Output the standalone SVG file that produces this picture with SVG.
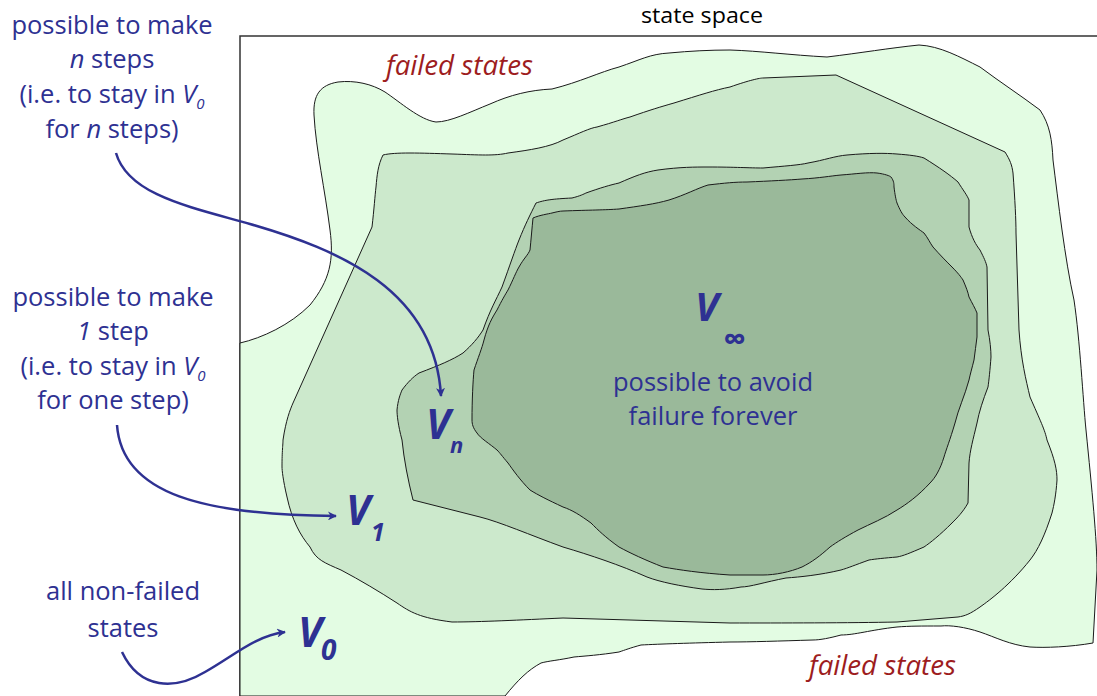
<svg xmlns="http://www.w3.org/2000/svg" width="1097" height="696" viewBox="0 0 1097 696">
<style>
.reg{stroke:#1a1a1a;stroke-width:1;stroke-linejoin:round}
.lbl{font-family:"Open Sans","Noto Sans",sans-serif;font-size:25.5px;fill:#2e3192;text-anchor:middle}
.red{font-family:"Open Sans","Noto Sans",sans-serif;font-size:27px;font-style:italic;fill:#9d1c20}
.big{font-family:"Open Sans","Noto Sans",sans-serif;font-style:italic;font-weight:bold;fill:#2e3192}
.arr{fill:none;stroke:#2e3192;stroke-width:2.5}
</style>
<defs>
<marker id="ah" viewBox="0 0 10 10" refX="9" refY="5" markerWidth="9" markerHeight="9" markerUnits="userSpaceOnUse" orient="auto">
<path d="M0,0 L10,5 L0,10 L3,5 z" fill="#2e3192"/>
</marker>
</defs>
<rect width="1097" height="696" fill="#ffffff"/>
<g id="state-space">
<rect x="240" y="36" width="870" height="680" fill="#ffffff" stroke="#333" stroke-width="1.5"/>
<text x="641" y="23" font-family="Open Sans, Noto Sans, sans-serif" font-size="22" fill="#000" textLength="122" lengthAdjust="spacingAndGlyphs">state space</text>
</g>
<g id="V0">
<path class="reg" fill="#e3fce3" d="M240,343 C262,338 290,325 310,305 C330,280 334,260 330,230 C325,190 316,150 314,115 C313,95 320,85 338,82 C355,80 372,84 385,92 C400,102 420,120 436,122 C450,122 470,112 490,104 C510,95 530,90 552,89 C580,82 600,72 619,67 C640,60 650,54 669,53 C690,51 710,50 730,50 C760,51 790,55 827,57 C860,53 890,48 919,45 C940,46 960,57 980,67 C1000,82 1020,95 1040,110 C1050,125 1052,140 1053,160 C1058,200 1065,260 1074,300 C1080,340 1083,400 1086,430 C1092,490 1097,540 1097,570 L1093,643 C1070,647 1045,648 1030,647 C1010,645 995,637 980,632 C965,627 950,625 941,626 C920,626 910,626 897,627 C870,630 855,635 841,635 C830,638 820,640 813,640 C780,641 750,642 730,642 C690,643 660,644 641,645 C630,648 625,650 619,652 C600,655 585,656 574,657 C560,660 548,661 541,663 C528,670 518,680 505,696 L240,696 Z"/>
</g>
<g id="V1">
<path class="reg" fill="#cce9cc" d="M383,155 C395,152 420,153 452,154 C480,155 495,156 508,153 C530,150 550,147 563,140 C580,133 590,128 597,127 C615,122 622,119 630,117 C650,110 660,107 674,103 C700,95 715,90 730,87 C750,80 760,78 763,78 L836,75 L1005,152 C1010,160 1012,165 1013,173 C1015,200 1016,220 1016,233 L1019,330 C1021,360 1026,380 1030,397 C1040,420 1045,430 1047,440 C1055,460 1057,470 1057,480 C1056,495 1054,505 1052,513 C1045,535 1038,550 1030,560 C1010,585 990,600 980,607 C970,614 965,616 958,617 L897,622 C850,623 780,623 730,623 L563,618 C520,620 480,622 452,622 C420,618 410,612 397,603 C380,592 360,580 341,570 C325,563 316,560 310,547 C300,535 292,520 287,497 C283,480 282,470 282,467 C282,450 283,445 283,440 C286,420 290,410 293,403 L372,227 C374,210 375,195 376,187 C377,175 378,165 383,155 Z"/>
</g>
<g id="Vn">
<path class="reg" fill="#b3d2b3" d="M536,203 C545,200 552,199 572,198 C580,196 584,194 586,193 C600,188 610,185 619,183 C635,176 645,172 658,170 C680,167 695,167 708,167 C735,167 750,168 763,168 C785,166 800,165 808,163 C825,160 835,156 847,155 C870,153 885,153 897,154 C910,155 918,156 924,158 C940,168 950,175 958,182 C963,190 967,195 969,200 L969,227 C972,238 976,245 980,250 C984,258 986,262 987,267 L988,330 C990,340 991,350 991,357 C990,370 989,380 988,387 C983,400 979,412 977,423 C973,440 970,450 969,463 L968,503 C963,512 957,518 952,523 C940,535 930,543 924,547 C910,553 903,556 897,557 C885,558 875,559 869,560 C855,565 848,568 841,570 C820,575 800,577 786,578 C765,582 750,587 741,587 C725,590 712,590 702,589 C680,586 660,582 647,577 C620,565 590,555 563,547 C530,535 500,522 480,517 L413,500 C408,480 404,460 402,440 C398,425 397,415 397,410 C398,400 400,395 402,390 C408,382 413,377 419,373 C440,365 452,360 463,353 C472,345 478,338 483,330 C490,310 496,300 502,287 C510,265 515,250 519,240 C525,225 530,215 536,203 Z"/>
</g>
<g id="Vinf">
<path class="reg" fill="#9ab99a" d="M533,218 C540,215 548,214 552,213 C556,212 560,211 563,211 C590,210 605,210 619,209 C640,206 655,204 669,200 C685,195 698,188 708,185 C725,183 735,182 747,182 C770,181 790,180 802,179 C820,178 830,176 841,175 C855,174 868,172 877,173 C885,174 890,176 891,177 C894,181 894,184 894,187 C895,195 896,200 897,203 C900,210 902,214 905,217 C912,225 920,230 924,233 C928,238 930,243 933,247 C940,255 947,262 952,267 C958,273 961,277 963,280 C966,287 968,292 969,297 C972,303 975,308 977,313 L977,337 C976,345 975,352 974,360 C972,368 970,375 969,380 C965,395 958,410 955,423 C950,440 946,450 944,457 C940,470 935,478 930,483 C918,496 907,504 897,510 C885,518 870,524 858,530 C845,537 837,542 830,547 C820,556 812,562 802,567 C790,572 775,575 763,575 L730,575 C700,573 680,570 663,567 C645,560 630,553 619,547 C605,537 598,530 591,523 C580,515 572,510 563,507 C548,500 538,495 530,490 C520,480 513,470 508,463 C502,456 500,453 497,450 C490,444 480,438 477,433 C473,428 472,424 472,420 C472,400 473,380 474,370 C478,358 482,348 484,340 C488,325 492,318 497,310 C502,300 505,295 508,290 C513,280 516,272 519,267 C524,258 528,255 530,250 C531,240 532,228 533,218 Z"/>
</g>
<g id="failed-top"><text class="red" x="386" y="75" textLength="147" lengthAdjust="spacingAndGlyphs">failed states</text></g>
<g id="failed-bottom"><text class="red" x="809" y="675" textLength="147" lengthAdjust="spacingAndGlyphs">failed states</text></g>
<g id="label-vinf">
<text class="big" x="695" y="321" font-size="40">V</text>
<text class="big" x="723" y="350" font-size="32">∞</text>
<text class="lbl" x="713" y="391">possible to avoid</text>
<text class="lbl" x="713" y="425">failure forever</text>
</g>
<g id="label-vn">
<text class="big" x="426" y="439" font-size="41">V</text>
<text class="big" x="450" y="453" font-size="22">n</text>
</g>
<g id="label-v1">
<text class="big" x="346" y="525" font-size="41">V</text>
<text class="big" x="371" y="541" font-size="25">1</text>
</g>
<g id="label-v0">
<text class="big" x="298" y="647" font-size="41">V</text>
<text class="big" x="321" y="660" font-size="28">0</text>
</g>
<g id="note-n">
<text class="lbl" x="112" y="34">possible to make</text>
<text class="lbl" x="112" y="68"><tspan font-style="italic">n</tspan> steps</text>
<text class="lbl" x="112" y="103">(i.e. to stay in <tspan font-style="italic">V</tspan><tspan font-style="italic" font-size="15" dy="6">0</tspan></text>
<text class="lbl" x="112" y="138">for <tspan font-style="italic">n</tspan> steps)</text>
</g>
<g id="note-1">
<text class="lbl" x="113" y="306">possible to make</text>
<text class="lbl" x="113" y="340"><tspan font-style="italic">1</tspan> step</text>
<text class="lbl" x="113" y="375">(i.e. to stay in <tspan font-style="italic">V</tspan><tspan font-style="italic" font-size="15" dy="6">0</tspan></text>
<text class="lbl" x="113" y="409">for one step)</text>
</g>
<g id="note-0">
<text class="lbl" x="123" y="600">all non-failed</text>
<text class="lbl" x="123" y="637">states</text>
</g>
<g id="connectors">
<path class="arr" marker-end="url(#ah)" d="M116,153 C128,195 190,207 250,224 C340,250 435,290 441,396"/>
<path class="arr" marker-end="url(#ah)" d="M117,425 C122,495 205,515 336,516"/>
<path class="arr" marker-end="url(#ah)" d="M122,652 C140,690 175,690 205,672 C235,655 255,636 285,632"/>
</g>
</svg>
